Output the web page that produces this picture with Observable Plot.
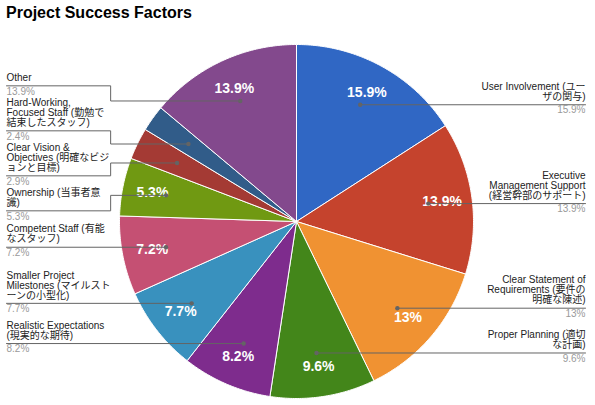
<!DOCTYPE html>
<html>
<head>
<meta charset="utf-8">
<script src="https://cdn.jsdelivr.net/npm/d3@7"></script>
<script src="https://cdn.jsdelivr.net/npm/@observablehq/plot@0.6"></script>
<style>
  body { margin: 0; background: #fff; font-family: Arial, "Liberation Sans", "Noto Sans CJK JP", sans-serif; }
  #title { box-sizing: border-box; height: 30px; padding: 3px 0 0 6px; font-size: 16px; line-height: 20px; font-weight: bold; color: #000; }
</style>
</head>
<body>
<div id="title">Project Success Factors</div>
<div id="chart"></div>
<script>
// data, clockwise from 12 o'clock
const categories = [
  "User Involvement", "Executive Management Support", "Clear Statement of Requirements",
  "Proper Planning", "Realistic Expectations", "Smaller Project Milestones",
  "Competent Staff", "Ownership", "Clear Vision & Objectives",
  "Hard-Working, Focused Staff", "Other"
];
const values = [15.9, 13.9, 13, 9.6, 8.2, 7.7, 7.2, 5.3, 2.9, 2.4, 13.9];
const labelLines = [
  ["User Involvement (ユー", "ザの関与)"],
  ["Executive", "Management Support", "(経営幹部のサポート)"],
  ["Clear Statement of", "Requirements (要件の", "明確な陳述)"],
  ["Proper Planning (適切", "な計画)"],
  ["Realistic Expectations", "(現実的な期待)"],
  ["Smaller Project", "Milestones (マイルスト", "ーンの小型化)"],
  ["Competent Staff (有能", "なスタッフ)"],
  ["Ownership (当事者意", "識)"],
  ["Clear Vision &", "Objectives (明確なビジ", "ョンと目標)"],
  ["Hard-Working,", "Focused Staff (勤勉で", "結束したスタッフ)"],
  ["Other"]
];
const colors = [
  "#3067c4", "#c5432d", "#f09232", "#43861a", "#7e2c8d", "#3991be",
  "#c55073", "#709912", "#a43a34", "#315c89", "#83498d"
];

// layout (pixels, relative to the pie centre, y pointing down)
const W = 595, H = 375;
const cx = 296, cy = 191, R = 177;
const textR = 147, dotR = 133, bendR = 1.05 * R;
const leftX = 6 - cx, rightX = 585 - cx;
const lineH = 10;

const polar = (a, r) => [r * Math.sin(a), -r * Math.cos(a)];
const arcs = d3.pie().sort(null).value(d => d)(values);

const slices = arcs.map((p, i) => {
  const mid = (p.startAngle + p.endAngle) / 2;
  const [dx, dy] = polar(mid, dotR);
  const [tx, ty] = polar(mid, textR);
  return {
    i, category: categories[i], value: values[i], lines: labelLines[i],
    a0: p.startAngle, a1: p.endAngle, mid, dx, dy, tx, ty,
    side: mid < Math.PI ? "right" : "left"
  };
});

const wedges = slices.flatMap(s => {
  const n = Math.max(2, Math.ceil((s.a1 - s.a0) / 0.01));
  const pts = [{category: s.category, x: 0, y: 0}];
  for (let k = 0; k <= n; k++) {
    const [x, y] = polar(s.a0 + (s.a1 - s.a0) * k / n, R);
    pts.push({category: s.category, x, y});
  }
  pts.push({category: s.category, x: 0, y: 0});
  return pts;
});

// keep labels in order, at least a block apart, as near their dots as possible
function layoutSide(items) {
  items.sort((a, b) => a.dy - b.dy);
  let G = 0;
  items.forEach((d, k) => {
    if (k > 0) G += 15 + lineH * d.lines.length;
    d.G = G;
  });
  const blocks = [];
  for (const d of items) {
    blocks.push({sum: d.dy - d.G, n: 1, items: [d]});
    while (blocks.length > 1) {
      const b = blocks[blocks.length - 1], a = blocks[blocks.length - 2];
      if (a.sum / a.n <= b.sum / b.n) break;
      blocks.pop();
      a.sum += b.sum; a.n += b.n; a.items.push(...b.items);
    }
  }
  blocks.forEach(b => b.items.forEach(d => { d.ly = b.sum / b.n + d.G; }));
}
layoutSide(slices.filter(s => s.side === "left"));
layoutSide(slices.filter(s => s.side === "right"));

const leaders = slices.flatMap(s => {
  const sx = s.side === "left" ? leftX : rightX;
  const bx = s.side === "left" ? -bendR : bendR;
  const pts = Math.abs(s.ly - s.dy) < 1
    ? [[sx, s.ly], [s.dx, s.dy]]
    : [[sx, s.ly], [bx, s.ly], [bx, s.dy], [s.dx, s.dy]];
  return pts.map(([x, y]) => ({category: s.category, x, y}));
});

const labels = slices.map(s => ({
  side: s.side,
  text: s.lines.join("\n"),
  pct: s.value + "%",
  x: s.side === "left" ? leftX : rightX,
  y: s.ly - 8 - (s.lines.length - 1) * lineH / 2,
  py: s.ly + 5.5
}));

const sideText = (side) => [
  Plot.text(labels.filter(d => d.side === side), {
    x: "x", y: "y", text: "text", textAnchor: side === "left" ? "start" : "end",
    fontSize: 10, lineHeight: 1, fill: "#222", lineAnchor: "middle"
  }),
  Plot.text(labels.filter(d => d.side === side), {
    x: "x", y: "py", text: "pct", textAnchor: side === "left" ? "start" : "end",
    fontSize: 10, fill: "#9a9a9a", lineAnchor: "middle"
  })
];

const chart = Plot.plot({
  width: W,
  height: H,
  margin: 0,
  x: {domain: [-cx, W - cx], range: [0, W], axis: null},
  y: {domain: [-cy, H - cy], range: [0, H], axis: null},
  color: {domain: categories, range: colors},
  style: {fontFamily: 'Arial, "Liberation Sans", "Noto Sans CJK JP", sans-serif', background: "#fff"},
  marks: [
    Plot.line(wedges, {x: "x", y: "y", z: "category", fill: "category", stroke: "white", strokeWidth: 1, curve: "linear"}),
    Plot.text(slices.filter(s => s.value >= 5), {
      x: "tx", y: "ty", text: d => d.value + "%",
      fill: "white", fontSize: 14, fontWeight: "bold"
    }),
    Plot.line(leaders, {x: "x", y: "y", z: "category", stroke: "#646464", strokeWidth: 1}),
    Plot.dot(slices, {x: "dx", y: "dy", r: 2.2, fill: "#646464"}),
    ...sideText("left"),
    ...sideText("right")
  ]
});
document.getElementById("chart").appendChild(chart);
</script>
</body>
</html>
